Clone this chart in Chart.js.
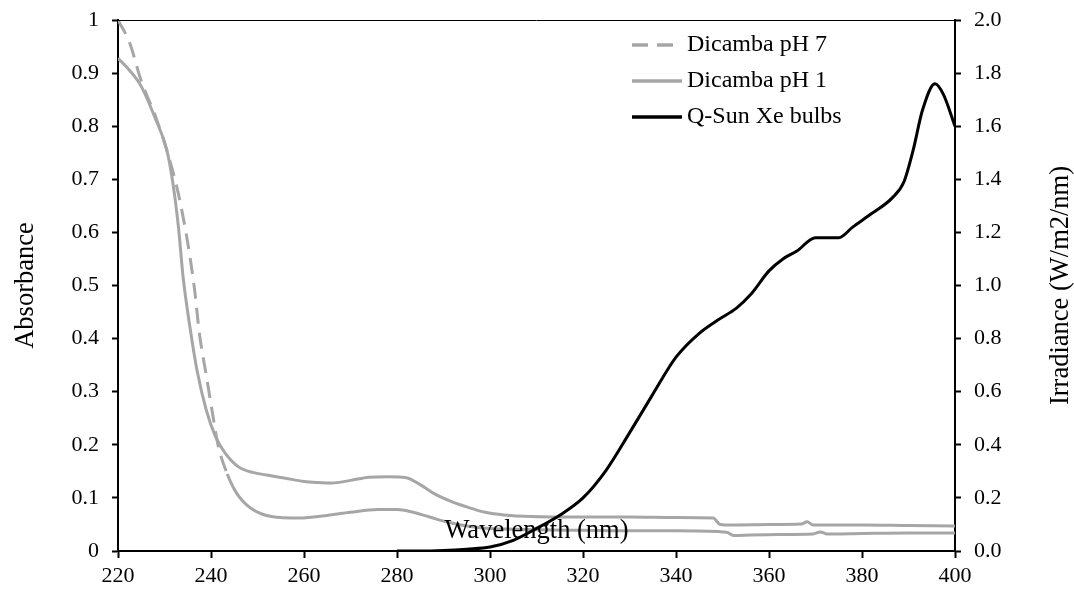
<!DOCTYPE html>
<html>
<head>
<meta charset="utf-8">
<script src="https://cdn.jsdelivr.net/npm/chart.js@4.4.1/dist/chart.umd.min.js"></script>
<style>
  html, body { margin: 0; padding: 0; background: #fff; }
  #wrap { width: 1074px; height: 594px; }
</style>
</head>
<body>
<div id="wrap"><canvas id="chart-dicamba" width="1074" height="594"></canvas></div>
<script>
// Dicamba pH 7 (dashed)
const ph7Wavelength = [220, 222.5, 225, 228, 231, 233, 235, 236.5, 237.5, 239, 240.5, 241.5, 243.5, 245.5, 248.5, 253, 259, 265, 270, 276, 280, 283, 287, 291, 295, 299, 305, 310, 320, 331, 340, 350, 351, 352.5, 356, 362, 369.5, 371, 372.5, 380, 390, 400];
const ph7Absorbance = [1.0, 0.957, 0.885, 0.82, 0.74, 0.672, 0.58, 0.49, 0.41, 0.33, 0.25, 0.2, 0.145, 0.109, 0.081, 0.065, 0.062, 0.067, 0.073, 0.078, 0.078, 0.074, 0.064, 0.054, 0.047, 0.043, 0.041, 0.04, 0.039, 0.038, 0.038, 0.036, 0.035, 0.029, 0.03, 0.031, 0.032, 0.036, 0.032, 0.033, 0.034, 0.034];

// Dicamba pH 1
const ph1Wavelength = [220, 222.5, 225, 228, 230.5, 231.8, 233, 234, 235.5, 237, 239, 241, 243, 246, 249, 252, 256, 260, 263, 266, 270, 274, 278, 282, 285, 288, 292, 295, 299, 303, 309, 320, 330, 340, 348, 349.5, 352, 360, 367, 368.2, 369.5, 380, 390, 400];
const ph1Absorbance = [0.928, 0.905, 0.875, 0.815, 0.755, 0.693, 0.61, 0.516, 0.42, 0.34, 0.265, 0.215, 0.185, 0.158, 0.148, 0.143, 0.137, 0.131, 0.129, 0.128, 0.133, 0.139, 0.14, 0.138, 0.125, 0.108, 0.092, 0.083, 0.073, 0.068, 0.065, 0.064, 0.064, 0.063, 0.062, 0.05, 0.049, 0.05, 0.051, 0.055, 0.049, 0.049, 0.048, 0.047];

// Q-Sun Xe bulbs irradiance
const qsunWavelength = [280, 285, 290, 295, 300, 305, 310, 315, 320, 325, 330, 335, 340, 345, 349, 353, 356, 360, 363, 366, 370, 373, 375, 378, 382, 386.5, 389, 391, 393, 395.7, 397.5, 400];
const qsunIrradiance = [0, 0, 0.002, 0.007, 0.015, 0.04, 0.085, 0.135, 0.2, 0.305, 0.445, 0.59, 0.73, 0.82, 0.87, 0.915, 0.965, 1.055, 1.1, 1.13, 1.18, 1.18, 1.18, 1.22, 1.27, 1.33, 1.39, 1.51, 1.66, 1.76, 1.72, 1.6];

const xTickLabels = ['220', '240', '260', '280', '300', '320', '340', '360', '380', '400'];
const leftTickLabels = ['0', '0.1', '0.2', '0.3', '0.4', '0.5', '0.6', '0.7', '0.8', '0.9', '1'];
const rightTickLabels = ['0.0', '0.2', '0.4', '0.6', '0.8', '1.0', '1.2', '1.4', '1.6', '1.8', '2.0'];

const seriesNames = ['Dicamba pH 7', 'Dicamba pH 1', 'Q-Sun Xe bulbs'];

const SERIF = "'Liberation Serif', 'Times New Roman', serif";
const GREY = '#a6a6a6';

function toPoints(xs, ys) {
  return xs.map((x, i) => ({ x: x, y: ys[i] }));
}

// dashes only show on the steep part, like the original export
const steepDash = ctx => {
  const drop = Math.abs(ph7Absorbance[ctx.p1DataIndex] - ph7Absorbance[ctx.p0DataIndex]);
  return drop > 0.04 ? [16, 9] : [];
};

const decorPlugin = {
  id: 'decor',
  afterDraw(chart) {
    const { ctx, chartArea } = chart;
    const midY = (chartArea.top + chartArea.bottom) / 2;
    ctx.save();

    // thin frame line on top
    ctx.strokeStyle = '#000';
    ctx.lineWidth = 1;
    ctx.beginPath();
    ctx.moveTo(chartArea.left, chartArea.top + 0.5);
    ctx.lineTo(chartArea.right, chartArea.top + 0.5);
    ctx.stroke();

    // axis titles
    ctx.fillStyle = '#000';
    ctx.font = '26.5px ' + SERIF;
    ctx.textAlign = 'center';
    ctx.textBaseline = 'alphabetic';
    ctx.fillText('Wavelength (nm)', (chartArea.left + chartArea.right) / 2, chartArea.bottom - 13);

    ctx.save();
    ctx.translate(33, midY);
    ctx.rotate(-Math.PI / 2);
    ctx.fillText('Absorbance', 0, 0);
    ctx.restore();

    ctx.save();
    ctx.translate(1068, midY);
    ctx.rotate(-Math.PI / 2);
    ctx.fillText('Irradiance (W/m2/nm)', 0, 0);
    ctx.restore();

    // legend
    const x0 = chartArea.right - 323;
    const rowY = [chartArea.top + 25, chartArea.top + 61, chartArea.top + 97];
    ctx.font = '24px ' + SERIF;
    ctx.textAlign = 'left';
    ctx.textBaseline = 'middle';
    chart.data.datasets.forEach((ds, i) => {
      ctx.strokeStyle = ds.borderColor;
      ctx.lineWidth = 3.5;
      ctx.setLineDash(i === 0 ? [16, 9] : []);
      ctx.beginPath();
      ctx.moveTo(x0, rowY[i]);
      ctx.lineTo(x0 + 50, rowY[i]);
      ctx.stroke();
      ctx.setLineDash([]);
      ctx.fillText(ds.label, x0 + 55, rowY[i]);
    });
    ctx.restore();
  }
};

const axisStyle = {
  grid: { drawOnChartArea: false, drawTicks: true, tickLength: 6, tickColor: '#000', tickWidth: 2 },
  border: { color: '#000', width: 2 }
};

const data = {
  datasets: [
    {
      label: seriesNames[0],
      data: toPoints(ph7Wavelength, ph7Absorbance),
      yAxisID: 'y',
      borderColor: GREY,
      borderWidth: 3,
      segment: { borderDash: steepDash },
      order: 2
    },
    {
      label: seriesNames[1],
      data: toPoints(ph1Wavelength, ph1Absorbance),
      yAxisID: 'y',
      borderColor: GREY,
      borderWidth: 3,
      order: 1
    },
    {
      label: seriesNames[2],
      data: toPoints(qsunWavelength, qsunIrradiance),
      yAxisID: 'y2',
      borderColor: '#000',
      borderWidth: 3,
      order: 0
    }
  ]
};

new Chart(document.getElementById('chart-dicamba'), {
  type: 'line',
  data: data,
  options: {
    responsive: false,
    animation: false,
    devicePixelRatio: 1,
    layout: { padding: { top: 20, left: 0, right: 0, bottom: 0 } },
    elements: {
      point: { radius: 0 },
      line: { cubicInterpolationMode: 'monotone', borderJoinStyle: 'round' }
    },
    plugins: {
      legend: { display: false },
      tooltip: { enabled: false }
    },
    scales: {
      x: {
        type: 'linear',
        position: 'bottom',
        min: 220,
        max: 400,
        ...axisStyle,
        grid: { ...axisStyle.grid, tickLength: 7 },
        ticks: {
          stepSize: 20,
          padding: 5,
          color: '#000',
          font: { family: SERIF, size: 22 },
          callback: (v, i) => xTickLabels[i] ?? v
        },
        afterFit: s => { s.height = 43; s.paddingLeft = 0; s.paddingRight = 0; }
      },
      y: {
        position: 'left',
        min: 0,
        max: 1,
        ...axisStyle,
        ticks: {
          stepSize: 0.1,
          padding: 13,
          color: '#000',
          font: { family: SERIF, size: 22 },
          callback: (v, i) => leftTickLabels[i] ?? v
        },
        afterFit: s => { s.width = 118; s.paddingTop = 0; s.paddingBottom = 0; }
      },
      y2: {
        position: 'right',
        min: 0,
        max: 2,
        ...axisStyle,
        ticks: {
          stepSize: 0.2,
          padding: 13,
          color: '#000',
          font: { family: SERIF, size: 22 },
          callback: (v, i) => rightTickLabels[i] ?? v
        },
        afterFit: s => { s.width = 119; s.paddingTop = 0; s.paddingBottom = 0; }
      }
    }
  },
  plugins: [decorPlugin]
});
</script>
</body>
</html>
